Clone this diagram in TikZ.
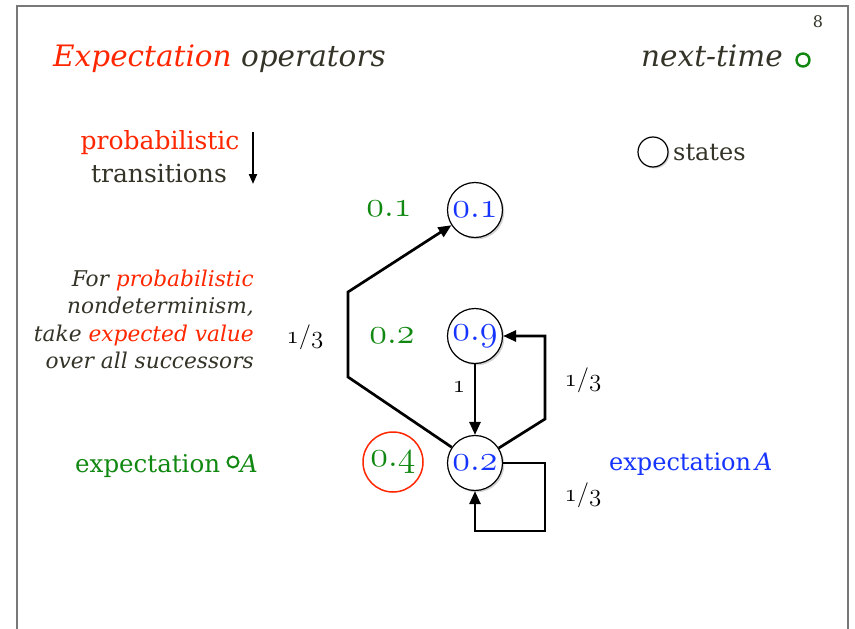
\RequirePackage{fix-cm}
\documentclass[tikz,border=0pt]{standalone}
\usepackage{fontspec}
\setmainfont{DejaVu Serif}
\usetikzlibrary{arrows.meta,shadows}
\definecolor{txt}{RGB}{51,51,40}
\definecolor{hred}{RGB}{255,38,0}
\definecolor{hgreen}{RGB}{17,136,17}
\definecolor{hblue}{RGB}{22,52,255}
\newcommand\osnf{\usefont{OML}{cmm}{m}{it}}
\newcommand\opd{\char"3A\relax}
\newcommand\osl{\char"3D\relax}
\newcommand\fs[1]{\fontsize{#1}{#1}\selectfont}
\begin{document}
\begin{tikzpicture}[x=1pt,y=-1pt,
  state/.style={circle,draw=black,line width=1.2pt,fill=white,minimum size=55pt,inner sep=0pt,
    text=hblue,font=\fs{36}\osnf,
    drop shadow={shadow xshift=1.8pt,shadow yshift=-1.8pt,opacity=0.35}},
  valnum/.style={text=hgreen,font=\fs{36}\osnf,inner sep=0pt},
  prob/.style={text=black,font=\fs{25}\osnf,inner sep=0pt},
  arr/.style={line width=2.7pt,-{Triangle[length=13pt,width=11pt]}},
  frameline/.style={draw={rgb,255:red,120;green,120;blue,120},line width=2pt},
  txtn/.style={text=txt,inner sep=0pt},
  it/.style={text=txt,inner sep=0pt,font=\fs{21.7}\itshape},
  ring/.style={circle,draw=hgreen,line width=2.4pt,inner sep=0pt}
]
\useasboundingbox (0,0) rectangle (855,629);
% frame
\coordinate (f1) at (17,629);
\coordinate (f2) at (17,6);
\coordinate (f3) at (848,6);
\coordinate (f4) at (848,629);
\draw[frameline] (f1) -- (f2) -- (f3) -- (f4);
% page number
\node[txtn,font=\fs{16}] (pg) at (818,22) {8};
% title
\node[txtn,anchor=base west,font=\fs{29.5}\itshape] (title) at (53,66)
  {\textcolor{hred}{Expectation} operators};
\node[txtn,anchor=base east,font=\fs{29.5}\itshape] (next) at (783,66) {next-time};
\node[ring,minimum size=13pt] (nring) at (803,60) {};
% legend
\node[txtn,anchor=base,font=\fs{25},text=hred] (lp) at (160,149) {probabilistic};
\node[txtn,anchor=base,font=\fs{25}] (lt) at (159,182) {transitions};
\coordinate (da) at (253,132);
\coordinate (db) at (253,184);
\draw[line width=2pt,-{Triangle[length=10pt,width=8pt]}] (da) -- (db);
\node[circle,draw=black,line width=1.2pt,fill=white,minimum size=30pt,inner sep=0pt,
  drop shadow={shadow xshift=1.5pt,shadow yshift=-1.5pt,opacity=0.35}] (ls) at (653,152) {};
\node[txtn,anchor=base west,font=\fs{24}] (lstates) at (673,160) {states};
% paragraph
\node[it,anchor=base east] (p1) at (254,286) {For \textcolor{hred}{probabilistic}};
\node[it,anchor=base east] (p2) at (254,313) {nondeterminism,};
\node[it,anchor=base east] (p3) at (254,341) {take \textcolor{hred}{expected value}};
\node[it,anchor=base east] (p4) at (254,368) {over all successors};
% expectation labels
\node[txtn,anchor=base west,font=\fs{24.5},text=hgreen] (eg) at (75,472) {expectation};
\node[ring,line width=2pt,minimum size=11pt] (egr) at (233,462) {};
\node[txtn,anchor=base west,font=\fs{24.5}\itshape,text=hgreen] (ega) at (240,472) {A};
\node[txtn,anchor=base west,font=\fs{24},text=hblue] (eb) at (609,470) {expectation\,\textit{A}};
% states
\node[state] (s1) at (475,210) {0\opd 1};
\node[state] (s9) at (475,336) {0\opd 9};
\node[state] (s2) at (475,463) {0\opd 2};
\node[valnum] (v1) at (389,209) {0\opd 1};
\node[valnum] (v2) at (392,336) {0\opd 2};
\node[circle,draw=hred,line width=1.5pt,minimum size=60pt,inner sep=0pt,text=hgreen,font=\fs{36}\osnf] (v4) at (393,462) {0\opd 4};
% transitions
\coordinate (a1) at (348,377);
\coordinate (a2) at (348,292);
\draw[arr] (s2) -- (a1) -- (a2) -- (s1);
\node[prob] (l1) at (305,337) {1\osl 3};
\draw[arr] (s9) -- (s2);
\node[prob] (l2) at (459,387) {1};
\coordinate (b1) at (545,419);
\coordinate (b2) at (545,336);
\draw[arr] (s2) -- (b1) -- (b2) -- (s9);
\node[prob] (l3) at (583,380) {1\osl 3};
\coordinate (c1) at (545,463);
\coordinate (c2) at (545,531);
\coordinate (c3) at (475,531);
\draw[arr] (s2) -- (c1) -- (c2) -- (c3) -- (s2);
\node[prob] (l4) at (583,495) {1\osl 3};
\end{tikzpicture}
\end{document}
